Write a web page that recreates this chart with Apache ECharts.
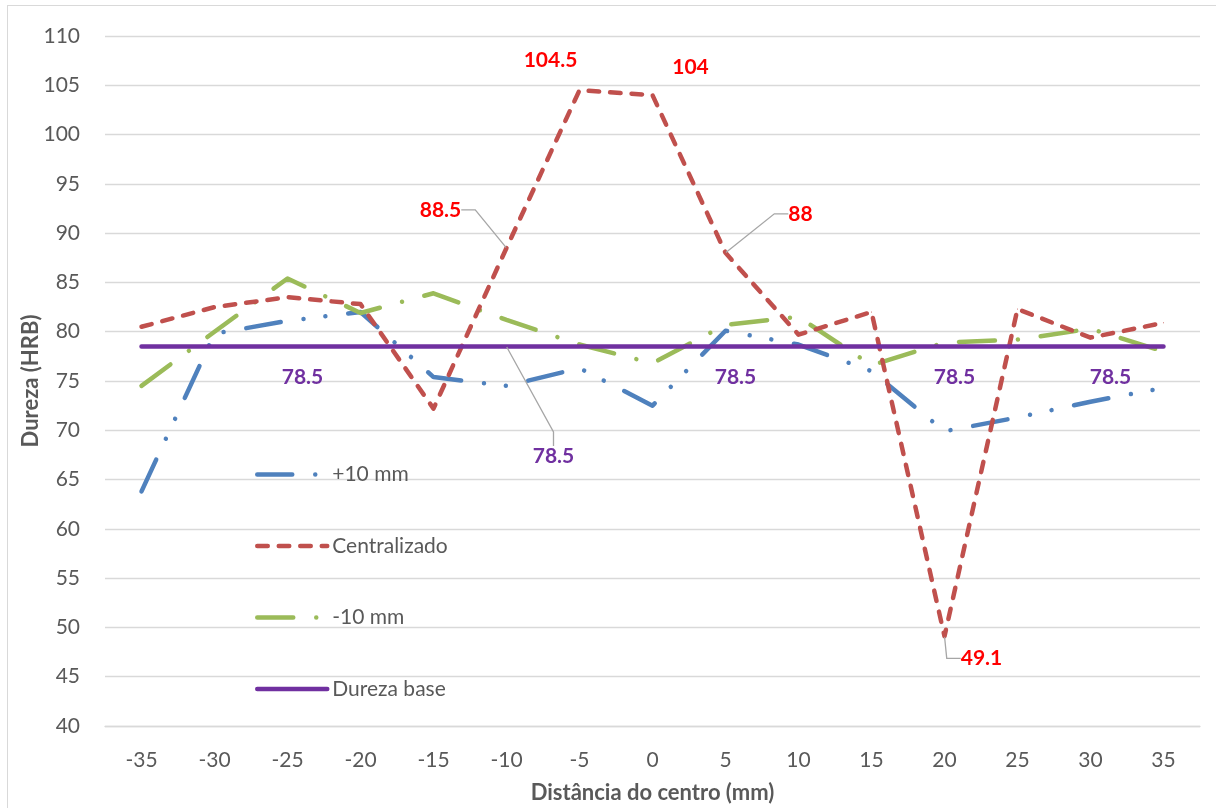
<!DOCTYPE html>
<html>
<head>
<meta charset="utf-8">
<script src="https://cdn.jsdelivr.net/npm/echarts@6.0.0/dist/echarts.min.js"></script>
<style>
html,body{margin:0;padding:0;background:#fff;}
#c{width:1216px;height:808px;}
#b{position:absolute;left:7px;top:5px;width:1215px;height:810px;border:1px solid #d9d9d9;box-sizing:border-box;pointer-events:none;}
</style>
</head>
<body>
<div id="c"></div>
<div id="b"></div>
<script>
// ---- data ----
const categories = ['-35','-30','-25','-20','-15','-10','-5','0','5','10','15','20','25','30','35'];
const plus10 = [63.8, 79.8, 81.1, 82.0, 75.4, 74.5, 76.3, 72.5, 80.1, 78.7, 76.0, 69.9, 71.3, 72.9, 74.3];
const centralizado = [80.5, 82.5, 83.5, 82.8, 72.2, 88.5, 104.5, 104, 88, 79.7, 82.0, 49.1, 82.3, 79.4, 80.9];
const minus10 = [74.5, 80.0, 85.4, 81.9, 83.9, 81.2, 78.7, 76.8, 80.7, 81.5, 76.6, 78.9, 79.2, 80.3, 78.0];
const durezaBase = [78.5, 78.5, 78.5, 78.5, 78.5, 78.5, 78.5, 78.5, 78.5, 78.5, 78.5, 78.5, 78.5, 78.5, 78.5];
const seriesNames = ['+10 mm', 'Centralizado', '-10 mm', 'Dureza base'];
const yTicks = {min: 40, max: 110, interval: 5};

// ---- label placement (style only) ----
const redLabelIdx = [5, 6, 7, 8, 11];
const redLeaderIdx = [5, 8, 11];
const redOffsets = {5: [-66, -38], 6: [-29, -30], 7: [38, -28], 8: [75, -39], 11: [37, 22]};
const purpleLabelIdx = [2, 5, 8, 11, 13];
const purpleLeaderIdx = [5];
const purpleOffsets = {2: [15, 31], 5: [47, 110], 8: [10, 31], 11: [10, 31], 13: [20, 31]};

const FONT = 'Lato, "Open Sans", sans-serif';
const leaderStyle = {color: '#a6a6a6', width: 1.3};

function buildData(values, labelIdx, leaderIdx) {
  return values.map((v, i) => {
    const item = {value: v};
    if (labelIdx.indexOf(i) >= 0) {
      item.label = {show: true};
      item.labelLine = {show: leaderIdx.indexOf(i) >= 0, length2: 14, lineStyle: leaderStyle};
    } else {
      item.label = {show: false};
    }
    return item;
  });
}

const chart = echarts.init(document.getElementById('c'), null, {renderer: 'canvas'});
const lw = 4.5;

chart.setOption({
  animation: false,
  backgroundColor: '#fff',
  grid: {left: 105, right: 16, top: 36, bottom: 82, containLabel: false, outerBoundsMode: 'none'},
  legend: {
    orient: 'vertical',
    left: 250,
    top: 459,
    itemWidth: 70,
    itemHeight: 20,
    itemGap: 50.5,
    data: seriesNames,
    itemStyle: {opacity: 0},
    lineStyle: {width: lw, cap: 'round'},
    textStyle: {fontFamily: FONT, fontSize: 21, color: '#595959'}
  },
  xAxis: {
    type: 'category',
    data: categories,
    boundaryGap: true,
    axisLine: {show: true, lineStyle: {color: '#d9d9d9', width: 1.3}},
    axisTick: {show: false},
    axisLabel: {color: '#595959', fontFamily: FONT, fontSize: 21, margin: 24},
    splitLine: {show: false},
    name: 'Distância do centro (mm)',
    nameLocation: 'middle',
    nameGap: 56,
    nameMoveOverlap: false,
    nameTextStyle: {fontFamily: FONT, fontSize: 22, fontWeight: 'bold', color: '#595959'}
  },
  yAxis: {
    type: 'value',
    min: yTicks.min,
    max: yTicks.max,
    interval: yTicks.interval,
    axisLine: {show: false},
    axisTick: {show: false},
    axisLabel: {color: '#595959', fontFamily: FONT, fontSize: 21, margin: 25},
    splitLine: {show: true, lineStyle: {color: '#d9d9d9', width: 1.3}},
    name: 'Dureza (HRB)',
    nameLocation: 'middle',
    nameGap: 63,
    nameRotate: 90,
    nameMoveOverlap: false,
    nameTextStyle: {fontFamily: FONT, fontSize: 22, fontWeight: 'bold', color: '#595959'}
  },
  series: [
    {
      name: seriesNames[0],
      type: 'line',
      data: plus10,
      symbol: 'none',
      lineStyle: {color: '#4F81BD', width: lw, type: [35, 23, 0.01, 22, 0.01, 23], cap: 'round', join: 'round'},
      itemStyle: {color: '#4F81BD'},
      z: 2
    },
    {
      name: seriesNames[1],
      type: 'line',
      data: buildData(centralizado, redLabelIdx, redLeaderIdx),
      symbol: 'circle',
      symbolSize: 1,
      showSymbol: true,
      lineStyle: {color: '#C0504D', width: lw, type: [10.5, 11], cap: 'round', join: 'round'},
      itemStyle: {color: '#C0504D'},
      label: {position: 'inside', color: '#FF0000', fontWeight: 'bold', fontFamily: FONT, fontSize: 21},
      labelLayout: function (p) {
        const o = redOffsets[p.dataIndex];
        return o ? {dx: o[0], dy: o[1]} : {};
      },
      z: 3
    },
    {
      name: seriesNames[2],
      type: 'line',
      data: minus10,
      symbol: 'none',
      lineStyle: {color: '#9BBB59', width: lw, type: [36, 23, 0.01, 23], cap: 'round', join: 'round'},
      itemStyle: {color: '#9BBB59'},
      z: 2
    },
    {
      name: seriesNames[3],
      type: 'line',
      data: buildData(durezaBase, purpleLabelIdx, purpleLeaderIdx),
      symbol: 'circle',
      symbolSize: 1,
      showSymbol: true,
      lineStyle: {color: '#7030A0', width: lw, type: 'solid', cap: 'round'},
      itemStyle: {color: '#7030A0'},
      label: {position: 'inside', color: '#7030A0', fontWeight: 'bold', fontFamily: FONT, fontSize: 21},
      labelLayout: function (p) {
        const o = purpleOffsets[p.dataIndex];
        return o ? {dx: o[0], dy: o[1]} : {};
      },
      z: 4
    }
  ]
});
</script>
</body>
</html>
